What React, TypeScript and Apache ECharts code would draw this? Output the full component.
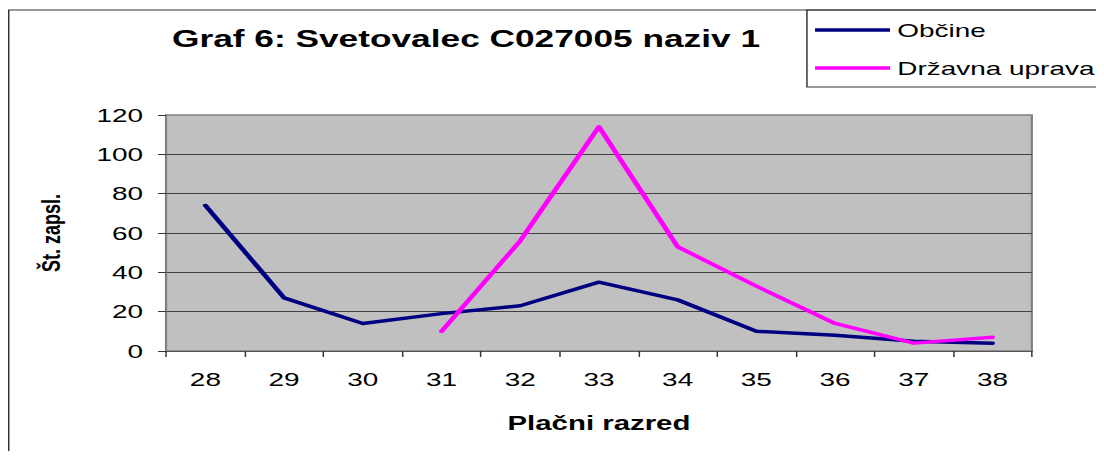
import React, { useEffect, useRef } from "react";
import * as echarts from "echarts";

const categories = ["28", "29", "30", "31", "32", "33", "34", "35", "36", "37", "38"];
const obcine = [74, 27, 14, 19, 23, 35, 26, 10, 8, 5, 4];
const drzavnaUprava = [null, null, null, 10, 56, 114, 53, 33, 14, 4, 7];
const yTicks = [0, 20, 40, 60, 80, 100, 120];

const SX = 1.47;
const W = 1096;
const H = 451;
const FONT = "'Liberation Sans', Arial, sans-serif";

export default function App() {
  const ref = useRef<HTMLDivElement>(null);
  useEffect(() => {
    if (!ref.current) return;
    const chart = echarts.init(ref.current, null, { renderer: "svg" });
    chart.setOption({
      animation: false,
      textStyle: { fontFamily: FONT, color: "#000" },
      title: {
        text: "Graf 6: Svetovalec C027005 naziv 1",
        left: 311.6,
        top: 19,
        textAlign: "center",
        padding: 0,
        textStyle: { fontFamily: FONT, fontSize: 24, fontWeight: "bold", color: "#000" },
      },
      legend: {
        orient: "vertical",
        left: 549,
        top: 12,
        padding: 0,
        icon: "rect",
        itemWidth: 51,
        itemHeight: 3.5,
        itemGap: 18,
        textStyle: { fontFamily: FONT, fontSize: 19, lineHeight: 20, color: "#000" },
        data: ["Občine", "Državna uprava"],
      },
      graphic: [
        {
          type: "rect",
          shape: { x: 0.5, y: 2, width: 900, height: 800 },
          style: { fill: "none", stroke: "#333", lineWidth: 1 },
          silent: true,
        },
        {
          type: "rect",
          shape: { x: 543.5, y: 2, width: 400, height: 77 },
          style: { fill: "none", stroke: "#333", lineWidth: 1 },
          silent: true,
        },
      ],
      grid: {
        left: 107.5,
        top: 107,
        width: 589,
        height: 236,
        show: true,
        backgroundColor: "#c0c0c0",
        borderColor: "#808080",
        borderWidth: 1.5,
      },
      xAxis: {
        type: "category",
        data: categories,
        boundaryGap: true,
        name: "Plačni razred",
        nameLocation: "middle",
        nameGap: 62,
        nameTextStyle: { fontFamily: FONT, fontSize: 20, fontWeight: "bold", color: "#000" },
        axisLine: { show: true, lineStyle: { color: "#555", width: 1 } },
        axisTick: { show: true, length: 6, lineStyle: { color: "#333" } },
        axisLabel: { margin: 19, fontSize: 19, fontFamily: FONT, color: "#000" },
        splitLine: { show: false },
      },
      yAxis: {
        type: "value",
        min: yTicks[0],
        max: yTicks[yTicks.length - 1],
        interval: 20,
        name: "Št. zapsl.",
        nameLocation: "middle",
        nameGap: 69,
        nameRotate: 90,
        nameTextStyle: { fontFamily: FONT, fontSize: 18, fontWeight: "bold", color: "#000" },
        axisLine: { show: true, lineStyle: { color: "#808080", width: 1 } },
        axisTick: { show: true, length: 5.4, lineStyle: { color: "#333" } },
        axisLabel: { margin: 15.6, fontSize: 19, fontFamily: FONT, color: "#000" },
        splitLine: {
          show: true,
          showMinLine: false,
          showMaxLine: false,
          lineStyle: { color: "#404040", width: 1 },
        },
      },
      series: [
        {
          name: "Občine",
          type: "line",
          data: obcine,
          symbol: "none",
          showSymbol: false,
          lineStyle: { color: "#000080", width: 3.5, cap: "round", join: "round" },
          itemStyle: { color: "#000080" },
        },
        {
          name: "Državna uprava",
          type: "line",
          data: drzavnaUprava,
          symbol: "none",
          showSymbol: false,
          connectNulls: false,
          lineStyle: { color: "#ff00ff", width: 3.5, cap: "round", join: "round" },
          itemStyle: { color: "#ff00ff" },
        },
      ],
    });
    return () => chart.dispose();
  }, []);

  return (
    <div style={{ width: W, height: H, overflow: "hidden", marginBottom: -8 }}>
      <div
        ref={ref}
        style={{
          width: W / SX,
          height: H,
          transform: `scaleX(${SX})`,
          transformOrigin: "0 0",
        }}
      />
    </div>
  );
}
